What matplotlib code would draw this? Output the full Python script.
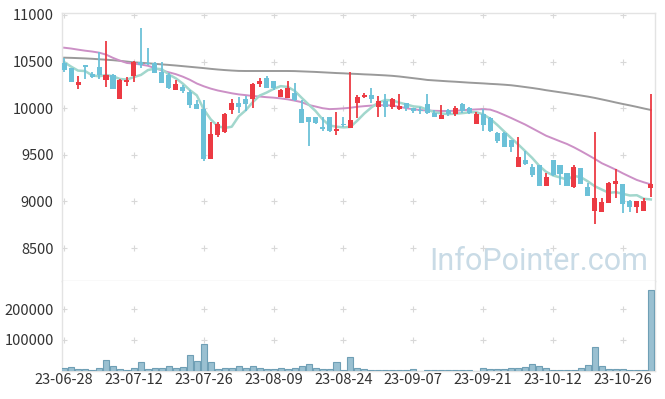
import matplotlib
matplotlib.use("Agg")
import matplotlib.pyplot as plt
import numpy as np
import pandas as pd

# ---------------- data ----------------
opens = [10482, 10428, 10253, 10464, 10364, 10439, 10303, 10357, 10103, 10282,
         10346, 10492, 10489, 10482, 10392, 10357, 10196, 10231, 10178, 10045,
         9988, 9459, 9712, 9748, 9980, 10059, 10102, 10095, 10256, 10320,
         10292, 10116, 10113, 10159, 9995, 9902, 9902, 9794, 9902, 9755,
         9830, 9791, 10052, 10116, 10141, 10016, 10077, 10009, 9995, 10059,
         9998, 9981, 10045, 9952, 9888, 9981, 9934, 10041, 9998, 9830,
         9937, 9891, 9730, 9737, 9658, 9372, 9444, 9365, 9390, 9168,
         9444, 9390, 9308, 9151, 9354, 9151, 8900, 8889, 8986, 9186,
         9186, 9004, 8943, 8900, 9147]
highs = [10535, 10435, 10349, 10464, 10392, 10607, 10721, 10364, 10310, 10331,
         10510, 10857, 10643, 10500, 10500, 10375, 10303, 10249, 10196, 10088,
         10088, 9856, 9855, 9945, 10095, 10116, 10131, 10274, 10320, 10349,
         10292, 10202, 10292, 10267, 10088, 9902, 9902, 9902, 9902, 9963,
         9902, 10392, 10141, 10166, 10213, 10131, 10149, 10106, 10152, 10059,
         9998, 10016, 10152, 9980, 10034, 9988, 10023, 10059, 10016, 9963,
         9988, 9909, 9748, 9748, 9658, 9694, 9544, 9401, 9390, 9308,
         9444, 9390, 9308, 9390, 9354, 9194, 9748, 9032, 9212, 9344,
         9186, 9015, 9004, 9032, 10152]
lows = [10385, 10278, 10203, 10310, 10321, 10310, 10231, 10203, 10103, 10239,
        10285, 10435, 10464, 10375, 10267, 10206, 10196, 10167, 9999, 9988,
        9437, 9459, 9687, 9737, 9934, 9952, 9970, 9998, 10231, 10213,
        10195, 10116, 10106, 10081, 9837, 9594, 9827, 9759, 9748, 9712,
        9802, 9791, 9891, 10113, 10052, 9909, 9909, 9988, 9981, 9973,
        9952, 9937, 9938, 9902, 9880, 9916, 9916, 9945, 9938, 9830,
        9759, 9748, 9623, 9580, 9533, 9372, 9390, 9265, 9168, 9168,
        9272, 9176, 9168, 9140, 9186, 9058, 8757, 8889, 8986, 9032,
        8879, 8889, 8871, 8900, 9050]
closes = [10410, 10285, 10282, 10446, 10339, 10357, 10357, 10210, 10303, 10307,
          10496, 10467, 10471, 10382, 10274, 10213, 10260, 10188, 10035, 9992,
          9459, 9724, 9827, 9937, 10059, 10016, 10048, 10259, 10295, 10220,
          10213, 10195, 10220, 10088, 9845, 9852, 9845, 9773, 9759, 9777,
          9816, 9873, 10116, 10141, 10095, 10077, 10009, 10095, 10023, 9998,
          9973, 9973, 9945, 9902, 9927, 9934, 9998, 9973, 9945, 9937,
          9820, 9759, 9648, 9587, 9587, 9480, 9401, 9283, 9168, 9258,
          9283, 9294, 9168, 9365, 9186, 9058, 9032, 8990, 9194, 9222,
          8968, 8943, 9004, 9004, 9186]
prev_closes = [10530, 10497, 10466, 10572]  # closes before the window (for MA5)
volumes = [8700, 12000, 5400, 5400, 3000, 8700, 34700, 15000, 5400, 3000,
           8700, 28000, 5400, 8700, 8700, 15000, 8700, 12000, 52000, 31000,
           87000, 28000, 5400, 8700, 8700, 15000, 8700, 15000, 8700, 5400,
           5400, 8700, 5400, 8700, 15000, 21700, 8700, 5400, 5400, 28000,
           3000, 45600, 8700, 5400, 2500, 2500, 2500, 2500, 2500, 2500,
           5400, 0, 2500, 2500, 2500, 2500, 2500, 2500, 2500, 0,
           8700, 5400, 5400, 5400, 8700, 8700, 12000, 21700, 15000, 8700,
           2500, 2500, 2500, 2500, 8700, 18000, 77000, 15000, 5400, 5400,
           5400, 3000, 3000, 3000, 263000]
ma20 = [10649, 10640, 10628, 10617, 10608, 10596, 10575, 10540, 10510, 10485,
        10478, 10468, 10455, 10430, 10405, 10385, 10365, 10338, 10305, 10265,
        10235, 10210, 10190, 10175, 10160, 10148, 10140, 10131, 10125, 10118,
        10113, 10105, 10095, 10081, 10065, 10035, 10018, 10000, 9990, 9993,
        9998, 10005, 10015, 10022, 10028, 10032, 10032, 10028, 10015, 10000,
        9988, 9980, 9975, 9972, 9970, 9970, 9972, 9978, 9983, 9987,
        9990, 9985, 9960, 9928, 9895, 9860, 9825, 9785, 9745, 9705,
        9675, 9645, 9616, 9580, 9540, 9498, 9455, 9409, 9375, 9340,
        9301, 9265, 9230, 9205, 9183]
ma60 = [10542, 10540, 10537, 10534, 10530, 10525, 10520, 10515, 10508, 10500,
        10492, 10487, 10482, 10476, 10470, 10464, 10458, 10451, 10444, 10437,
        10430, 10422, 10415, 10409, 10404, 10400, 10399, 10399, 10399, 10399,
        10399, 10399, 10399, 10398, 10395, 10392, 10389, 10385, 10381, 10377,
        10374, 10370, 10367, 10363, 10360, 10356, 10352, 10347, 10340, 10331,
        10322, 10313, 10303, 10298, 10293, 10288, 10284, 10279, 10274, 10270,
        10266, 10261, 10257, 10252, 10246, 10237, 10227, 10217, 10206, 10193,
        10182, 10171, 10160, 10148, 10136, 10124, 10110, 10094, 10078, 10061,
        10045, 10030, 10014, 9997, 9981]
date_labels = ['23-06-28', '23-07-12', '23-07-26', '23-08-09', '23-08-24',
               '23-09-07', '23-09-21', '23-10-12', '23-10-26']
label_step = 10
price_ticks = [8500, 9000, 9500, 10000, 10500, 11000]
volume_ticks = [100000, 200000]

# ---------------- styling ----------------
plt.rcParams['font.family'] = ['Noto Sans CJK KR', 'DejaVu Sans']
UP = '#ec3a43'
DOWN = '#6cc1d8'
GRID = '#d8d8d8'
SPINE = '#e3e3e3'
TXT = '#333333'

W, H = 665, 399
fig = plt.figure(figsize=(W / 100, H / 100), dpi=100)
L, R = 62, 655
top_p, bot_p, bot_v = 13.3, 281, 370.7
ax = fig.add_axes([L / W, (H - bot_p) / H, (R - L) / W, (bot_p - top_p) / H])
axv = fig.add_axes([L / W, (H - bot_v) / H, (R - L) / W, (bot_v - bot_p) / H], sharex=ax)

n = len(closes)
x = np.arange(n)
o = np.array(opens, float)
c = np.array(closes, float)
hi = np.array(highs, float)
lo = np.array(lows, float)
up = c >= o
cols = np.where(up, UP, DOWN)

# moving averages
ma5 = pd.Series(prev_closes + closes).rolling(5).mean().to_numpy()[len(prev_closes):]
ax.plot(x, ma60, color='#9a9a9a', lw=1.4, zorder=2)
ax.plot(x, ma20, color='#cc90c6', lw=1.4, zorder=2)
ax.plot(x, ma5, color='#a2d7cd', lw=1.8, zorder=2)

# candles
ax.vlines(x, lo, hi, colors=cols, lw=1.3, zorder=3)
body = np.maximum(np.abs(c - o), 8)
ax.bar(x, body, bottom=np.minimum(o, c), width=0.72, color=cols, zorder=4, linewidth=0)

# volume
axv.bar(x, volumes, width=0.86, color='#9ac0d1', edgecolor='#6f9fb5', linewidth=0.8, zorder=3)

# limits
ax.set_xlim(-0.3, 84.6)
ax.set_ylim(8146, 11018)
axv.set_ylim(0, 292000)

# grid "+" marks
xt = np.arange(0, n, label_step)
gx, gy = np.meshgrid(xt, price_ticks)
ax.plot(gx.ravel(), gy.ravel(), ls='none', marker='+', ms=5, mew=0.8, color=GRID, zorder=1)
gx, gy = np.meshgrid(xt, volume_ticks)
axv.plot(gx.ravel(), gy.ravel(), ls='none', marker='+', ms=5, mew=0.8, color=GRID, zorder=1)

# ticks
ax.set_yticks(price_ticks)
ax.set_yticklabels([str(t) for t in price_ticks])
axv.set_yticks(volume_ticks)
axv.set_yticklabels([str(t) for t in volume_ticks])
axv.set_xticks(xt)
axv.set_xticklabels(date_labels)
ax.tick_params(axis='x', labelbottom=False, length=0)
for a in (ax, axv):
    a.tick_params(axis='y', length=0, pad=6, labelsize=10.5, labelcolor=TXT)
axv.tick_params(axis='x', length=0, pad=2, labelsize=10.5, labelcolor=TXT)

for a in (ax, axv):
    for s in a.spines.values():
        s.set_color(SPINE)
        s.set_linewidth(1.0)
axv.spines['top'].set_visible(False)

# watermark
ax.text((648 - L) / (R - L), (bot_p - 270) / (bot_p - top_p), 'InfoPointer.com',
        transform=ax.transAxes, ha='right', va='baseline', fontsize=22,
        family=['Roboto', 'DejaVu Sans'], color='#c9dbe6', zorder=0)

fig.savefig('out.png', dpi=100)
